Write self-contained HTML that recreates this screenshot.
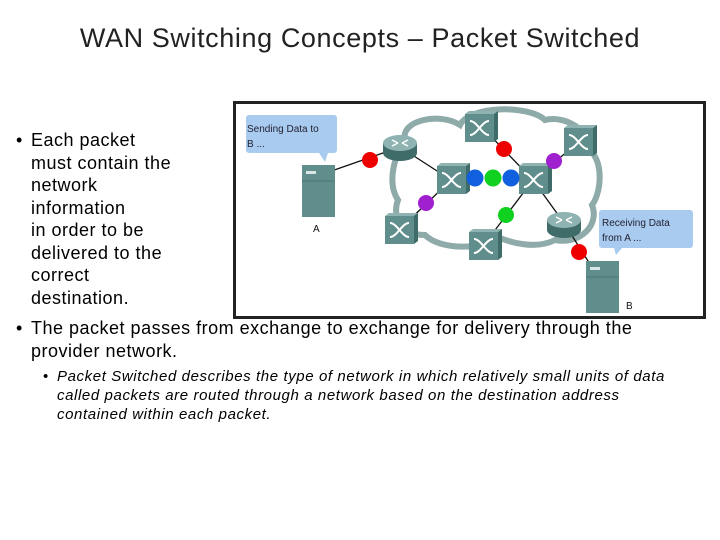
<!DOCTYPE html>
<html><head><meta charset="utf-8"><style>
body{margin:0;width:720px;height:540px;background:#fff;position:relative;overflow:hidden;font-family:"Liberation Sans",sans-serif;color:#000}
.t{position:absolute;white-space:nowrap;line-height:1}
.b{font-size:18px;letter-spacing:0.5px}
.s{font-size:15px;font-style:italic;letter-spacing:0.6px}
</style></head><body>
<div class="t" style="left:0;width:720px;text-align:center;top:25px;font-size:27px;letter-spacing:0.6px;color:#222">WAN Switching Concepts – Packet Switched</div>

<div class="t b" style="left:16px;top:131px">•</div>
<div class="t b" style="left:31px;top:131px">Each packet</div>
<div class="t b" style="left:31px;top:153.5px">must contain the</div>
<div class="t b" style="left:31px;top:176px">network</div>
<div class="t b" style="left:31px;top:198.5px">information</div>
<div class="t b" style="left:31px;top:221px">in order to be</div>
<div class="t b" style="left:31px;top:243.5px">delivered to the</div>
<div class="t b" style="left:31px;top:266px">correct</div>
<div class="t b" style="left:31px;top:288.5px">destination.</div>
<div class="t b" style="left:16px;top:319px">•</div>
<div class="t b" style="left:31px;top:319px">The packet passes from exchange to exchange for delivery through the</div>
<div class="t b" style="left:31px;top:342px">provider network.</div>
<div class="t s" style="left:43px;top:369px;font-style:normal">•</div>
<div class="t s" style="left:57px;top:369px">Packet Switched describes the type of network in which relatively small units of data</div>
<div class="t s" style="left:57px;top:388px">called packets are routed through a network based on the destination address</div>
<div class="t s" style="left:57px;top:407px">contained within each packet.</div>

<svg style="position:absolute;left:0;top:0" width="720" height="540">
<defs>
<g id="sw"><rect x="0" y="0" width="29" height="28" fill="#5f8e8c"/><path d="M0 0 l4 -3 h29 l-4 3z" fill="#8fb3b1"/><path d="M29 0 l4 -3 v28 l-4 3z" fill="#3f6b69"/>
<path d="M5 7 C12 7 17 21 24 21 M5 21 C12 21 17 7 24 7" stroke="#fff" stroke-width="2" fill="none"/></g>
<g id="sv"><rect x="0" y="0" width="33" height="52" fill="#5f8e8c"/><rect x="4" y="6" width="10" height="3" fill="#d8e6e5"/><line x1="0" y1="16" x2="33" y2="16" stroke="#4b7775"/></g>
<g id="rt"><ellipse cx="0" cy="10" rx="17" ry="8" fill="#3f6b69"/><rect x="-17" y="0" width="34" height="10" fill="#3f6b69"/><ellipse cx="0" cy="0" rx="17" ry="8" fill="#8fb3b1"/>
<path d="M-8 -3 l6 3 M8 -3 l-6 3 M-8 3 l6 -3 M8 3 l-6 -3" stroke="#fff" stroke-width="1.5"/></g>
</defs>
<rect x="234.5" y="102.5" width="470" height="215" fill="#fff" stroke="#222" stroke-width="3"/>
<path d="M405 140 C400 120 440 112 460 125 C470 105 530 105 545 120 C565 115 590 130 590 150 C605 165 600 195 592 205 C600 225 580 245 555 240 C535 250 510 242 500 238 C480 250 440 250 425 235 C400 235 392 215 398 200 C388 185 392 160 405 140Z" fill="none" stroke="#8eaaa9" stroke-width="6"/>
<g stroke="#111" stroke-width="1.3">
<line x1="320" y1="175" x2="400" y2="147"/><line x1="400" y1="147" x2="451" y2="180"/>
<line x1="451" y1="180" x2="400" y2="229"/><line x1="533" y1="180" x2="481" y2="126"/>
<line x1="533" y1="180" x2="580" y2="141"/><line x1="533" y1="180" x2="483" y2="246"/>
<line x1="533" y1="180" x2="564" y2="223"/><line x1="564" y1="223" x2="600" y2="280"/>
</g>
<use href="#sv" x="302" y="165"/><use href="#sv" x="586" y="261"/>
<use href="#rt" x="400" y="143"/><use href="#rt" x="564" y="220"/>
<use href="#sw" x="465" y="114"/><use href="#sw" x="564" y="128"/><use href="#sw" x="437" y="166"/>
<use href="#sw" x="519" y="166"/><use href="#sw" x="385" y="216"/><use href="#sw" x="469" y="232"/>
<g>
<circle cx="370" cy="160" r="8" fill="#e00"/><circle cx="504" cy="149" r="8" fill="#e00"/><circle cx="579" cy="252" r="8" fill="#e00"/>
<circle cx="554" cy="161" r="8" fill="#a020d0"/><circle cx="426" cy="203" r="8" fill="#a020d0"/>
<circle cx="475" cy="178" r="8.5" fill="#1060e0"/><circle cx="493" cy="178" r="8.5" fill="#10d020"/><circle cx="511" cy="178" r="8.5" fill="#1060e0"/>
<circle cx="506" cy="215" r="8" fill="#10d020"/>
</g>
<path d="M246 115 h88 a3 3 0 0 1 3 3 v32 a3 3 0 0 1 -3 3 h-6 l-3 9 l-6 -9 h-70 a3 3 0 0 1 -3 -3 v-32 a3 3 0 0 1 3 -3z" fill="#a9cbef"/>
<text x="247" y="132" font-family="Liberation Sans" font-size="10" fill="#223">Sending Data to</text>
<text x="247" y="147" font-family="Liberation Sans" font-size="10" fill="#223">B ...</text>
<path d="M602 210 h88 a3 3 0 0 1 3 3 v32 a3 3 0 0 1 -3 3 h-68 l-6 7 l-2 -7 h-12 a3 3 0 0 1 -3 -3 v-32 a3 3 0 0 1 3 -3z" fill="#a9cbef"/>
<text x="602" y="226" font-family="Liberation Sans" font-size="10" fill="#223">Receiving Data</text>
<text x="602" y="241" font-family="Liberation Sans" font-size="10" fill="#223">from A ...</text>
<text x="313" y="232" font-family="Liberation Sans" font-size="10" fill="#111">A</text>
<text x="626" y="309" font-family="Liberation Sans" font-size="10" fill="#111">B</text>
</svg>
</body></html>
